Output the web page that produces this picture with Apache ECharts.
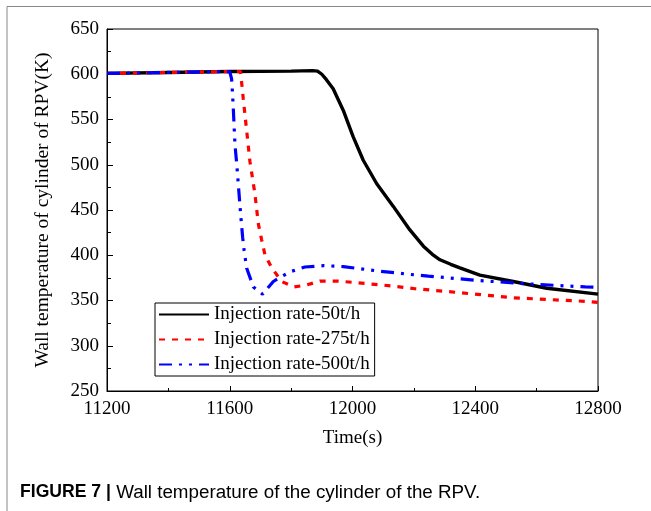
<!DOCTYPE html>
<html>
<head>
<meta charset="utf-8">
<script src="https://cdn.jsdelivr.net/npm/echarts@6/dist/echarts.min.js"></script>
<style>
  html, body { margin: 0; padding: 0; background: #fff; }
  #chart { width: 651px; height: 511px; }
</style>
</head>
<body>
<div id="chart"></div>
<script>
// values
var seriesNames = ['Injection rate-50t/h', 'Injection rate-275t/h', 'Injection rate-500t/h'];

var time50 = [11200, 11400, 11600, 11800, 11870, 11886, 11900, 11915, 11937, 11970, 12002, 12035, 12079, 12133, 12187, 12231, 12260, 12285, 12320, 12350, 12415, 12524, 12633, 12800];
var temp50 = [601, 602, 603, 603.5, 604, 603.5, 600, 594, 584, 560, 531, 505, 479, 454, 428, 410, 401, 395, 390, 386, 378, 371, 363.5, 357];

var time275 = [11200, 11400, 11600, 11635, 11639, 11644, 11655, 11666, 11682, 11693, 11704, 11715, 11737, 11769, 11810, 11849, 11894, 11948, 12003, 12101, 12204, 12307, 12524, 12763, 12800];
var temp275 = [601, 602, 603, 603, 590, 573, 538, 503, 468, 435, 417, 400, 386, 371, 365, 367, 371.5, 371.5, 370, 367, 363, 360, 353, 349, 348];

var time500 = [11200, 11400, 11600, 11606, 11609, 11612, 11617, 11623, 11628, 11636, 11642, 11647, 11655, 11677, 11707, 11742, 11761, 11799, 11845, 11905, 11970, 12073, 12182, 12247, 12415, 12589, 12758, 12800];
var temp500 = [601, 602, 603, 595, 579, 559, 522, 500, 478, 443, 420, 405, 386, 365, 357, 371, 375, 382, 387, 388.5, 387.5, 383, 379, 377, 372, 368, 365, 364.5];

function zip(xs, ys) {
  return xs.map(function (x, i) { return [x, ys[i]]; });
}

var serif = 'Liberation Serif';
var chart = echarts.init(document.getElementById('chart'));

var option = {
  animation: false,
  backgroundColor: '#fff',
  grid: {
    left: 107, right: 53, top: 29, bottom: 120,
    show: true, borderColor: '#000', borderWidth: 1
  },
  legend: {
    orient: 'vertical',
    left: 155, top: 303,
    itemWidth: 50, itemHeight: 10, itemGap: 6,
    padding: [2, 5, 2, 3],
    borderColor: '#000', borderWidth: 1,
    itemStyle: { opacity: 0 },
    textStyle: { fontFamily: serif, fontSize: 19, color: '#000' },
    data: seriesNames
  },
  xAxis: {
    type: 'value',
    min: 11200, max: 12800, interval: 400,
    name: 'Time(s)', nameLocation: 'middle', nameGap: 38,
    nameTextStyle: { fontFamily: serif, fontSize: 19, color: '#000' },
    axisLine: { lineStyle: { color: '#000', width: 1 } },
    axisTick: { inside: true, length: 5, lineStyle: { color: '#000' } },
    minorTick: { show: true, splitNumber: 2, length: 3, lineStyle: { color: '#000' } },
    axisLabel: { fontFamily: serif, fontSize: 19, color: '#000', margin: 9, formatter: function (v) { return String(v); } },
    splitLine: { show: false }
  },
  yAxis: {
    type: 'value',
    min: 250, max: 650, interval: 50,
    name: 'Wall temperature of cylinder of RPV(K)', nameLocation: 'middle', nameGap: 54,
    nameTextStyle: { fontFamily: serif, fontSize: 19.5, color: '#000' },
    axisLine: { lineStyle: { color: '#000', width: 1 } },
    axisTick: { inside: true, length: 6, lineStyle: { color: '#000' } },
    minorTick: { show: true, splitNumber: 2, length: 4, lineStyle: { color: '#000' } },
    axisLabel: { fontFamily: serif, fontSize: 19, color: '#000', margin: 8 },
    splitLine: { show: false }
  },
  series: [
    {
      name: seriesNames[0], type: 'line', data: zip(time50, temp50),
      symbol: 'none',
      lineStyle: { color: '#000', width: 3.4, type: 'solid' },
      itemStyle: { color: '#000' }
    },
    {
      name: seriesNames[1], type: 'line', data: zip(time275, temp275),
      symbol: 'none',
      lineStyle: { color: '#f00', width: 3.2, type: [6, 7] },
      itemStyle: { color: '#f00' }
    },
    {
      name: seriesNames[2], type: 'line', data: zip(time500, temp500),
      symbol: 'none',
      lineStyle: { color: '#00f', width: 3.2, type: [13, 7, 3, 7, 3, 7] },
      itemStyle: { color: '#00f' }
    }
  ],
  graphic: [
    {
      type: 'polyline',
      shape: { points: [[7, 511], [7, 6.5], [651, 6.5]] },
      style: { stroke: '#888', lineWidth: 1, fill: null }
    },
    {
      type: 'text', left: 20, top: 483,
      style: {
        text: '{b|FIGURE 7 |} Wall temperature of the cylinder of the RPV.',
        font: '18.8px "Liberation Sans"', fill: '#000',
        rich: {
          b: { fontFamily: 'Liberation Sans', fontSize: 17.6, fontWeight: 'bold', fill: '#000' }
        }
      }
    }
  ]
};

chart.setOption(option);
</script>
</body>
</html>
